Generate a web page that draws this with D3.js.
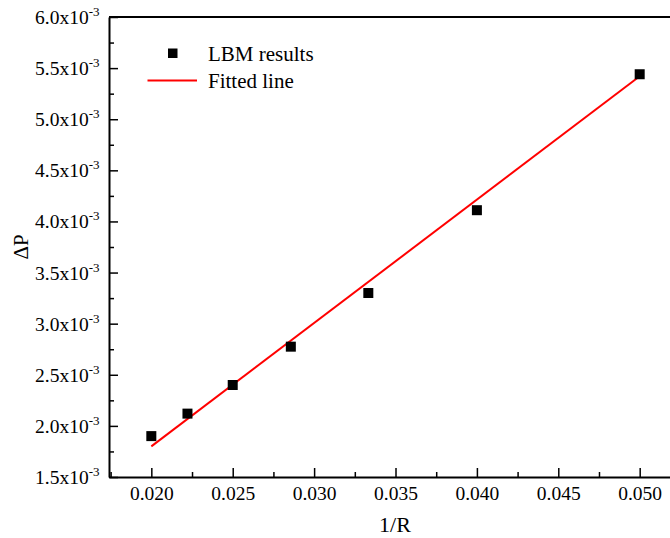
<!DOCTYPE html>
<html lang="en">
  <head>
    <meta charset="utf-8">
    <script src="https://d3js.org/d3.v7.min.js"></script>
    <style>
    body { margin: 0; background: #fff; }
    svg text { font-family: "Liberation Serif", "Times New Roman", serif; fill: #000; }
    </style>
  </head>
  <body>
    <div id="place"></div>
    <script type="text/javascript">
    // values (1/R and delta P)
    const invR = [0.020, 0.02222, 0.025, 0.02857, 0.03333, 0.040, 0.050];
    const deltaP = [1.90e-3, 2.12e-3, 2.40e-3, 2.775e-3, 3.30e-3, 4.11e-3, 5.44e-3];
    // fitted line end points
    const fitX = [0.020, 0.050];
    const fitY = [1.80e-3, 5.42e-3];
    const xTicks = [0.020, 0.025, 0.030, 0.035, 0.040, 0.045, 0.050];
    const xMinor = [0.0175, 0.0225, 0.0275, 0.0325, 0.0375, 0.0425, 0.0475];
    const yTicks = [1.5e-3, 2.0e-3, 2.5e-3, 3.0e-3, 3.5e-3, 4.0e-3, 4.5e-3, 5.0e-3, 5.5e-3, 6.0e-3];
    const yMinor = [1.75e-3, 2.25e-3, 2.75e-3, 3.25e-3, 3.75e-3, 4.25e-3, 4.75e-3, 5.25e-3, 5.75e-3];
    const legendLabels = ["LBM results", "Fitted line"];

    const serif = '"Liberation Serif", "Times New Roman", serif';
    var width = 670, height = 538;
    var svg = d3.select('#place').append('svg')
        .attr('width', width)
        .attr('height', height)
        .style('font-family', serif);

    const xScale = d3.scaleLinear().domain([0.0174, 0.0522]).range([109, 675.5]);
    const yScale = d3.scaleLinear().domain([1.5e-3, 6.0e-3]).range([477, 17]);

    // fitted line
    const line = d3.line().x(d => xScale(d[0])).y(d => yScale(d[1]));
    svg.append("path")
      .datum(fitX.map((v, i) => [v, fitY[i]]))
      .attr("fill", "none")
      .attr("stroke", "#ff0000")
      .attr("stroke-width", 2)
      .attr("d", line);

    // scatter squares
    const sq = 10;
    svg.append("g").selectAll("rect")
      .data(invR.map((v, i) => [v, deltaP[i]]))
      .enter().append("rect")
      .attr("x", d => xScale(d[0]) - sq / 2)
      .attr("y", d => yScale(d[1]) - sq / 2)
      .attr("width", sq)
      .attr("height", sq)
      .attr("fill", "#000");

    // x axis (ticks pointing inward)
    const xAxis = svg.append("g")
      .attr("transform", `translate(0,${yScale(1.5e-3)})`)
      .call(d3.axisBottom(xScale).tickValues(xTicks).tickSize(-9).tickSizeOuter(0)
        .tickPadding(16).tickFormat(d3.format(".3f")));
    xAxis.attr("font-family", null).attr("font-size", null);
    xAxis.selectAll("text")
      .style("font-family", serif)
      .style("font-size", "19.5px")
      .attr("dy", "0.35em");
    svg.append("g")
      .attr("transform", `translate(0,${yScale(1.5e-3)})`)
      .call(d3.axisBottom(xScale).tickValues(xMinor).tickSize(-5)
        .tickSizeOuter(0).tickFormat(""))
      .select(".domain").remove();

    // y axis
    svg.append("g")
      .attr("transform", `translate(${xScale(0.0174)},0)`)
      .call(d3.axisLeft(yScale).tickValues(yTicks).tickSize(-9).tickSizeOuter(0).tickFormat(""));
    svg.append("g")
      .attr("transform", `translate(${xScale(0.0174)},0)`)
      .call(d3.axisLeft(yScale).tickValues(yMinor).tickSize(-5).tickSizeOuter(0).tickFormat(""))
      .select(".domain").remove();

    svg.selectAll(".domain").attr("stroke-width", 2);
    svg.selectAll(".tick line").attr("stroke-width", 1.5);

    // y tick labels with superscript exponent
    const yLab = svg.append("g").selectAll("text")
      .data(yTicks)
      .enter().append("text")
      .attr("x", 99.5)
      .attr("y", d => yScale(d) + 7)
      .attr("text-anchor", "end")
      .style("font-family", serif)
      .style("font-size", "19.5px");
    yLab.append("tspan").text(d => (d * 1000).toFixed(1) + "x10");
    yLab.append("tspan").attr("dy", -8).style("font-size", "13px").text("-3");

    // top border
    svg.append("line")
      .attr("x1", xScale(0.0174)).attr("x2", xScale(0.0522))
      .attr("y1", yScale(6.0e-3)).attr("y2", yScale(6.0e-3))
      .attr("stroke", "#000").attr("stroke-width", 2.2);

    // axis titles
    svg.append("text")
      .attr("x", 395).attr("y", 532)
      .attr("text-anchor", "middle")
      .style("font-size", "22px")
      .text("1/R");
    svg.append("text")
      .attr("transform", "translate(28,247) rotate(-90)")
      .attr("text-anchor", "middle")
      .style("font-size", "21px")
      .text("ΔP");

    // legend
    const legend = svg.append("g");
    legend.append("rect")
      .attr("x", 168).attr("y", 48.5).attr("width", 9.5).attr("height", 9.5)
      .attr("fill", "#000");
    legend.append("line")
      .attr("x1", 147.5).attr("x2", 197).attr("y1", 80.5).attr("y2", 80.5)
      .attr("stroke", "#ff0000").attr("stroke-width", 2);
    legend.selectAll("text")
      .data(legendLabels)
      .enter().append("text")
      .attr("x", 208)
      .attr("y", (d, i) => 61 + i * 27)
      .style("font-size", "21px")
      .text(d => d);
    </script>
  </body>
</html>
